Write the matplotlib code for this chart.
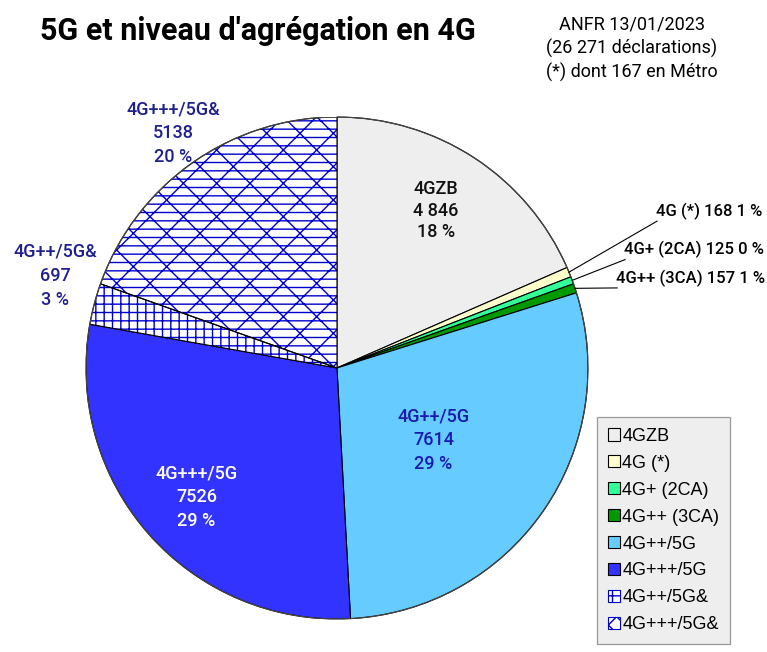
import numpy as np
import matplotlib
matplotlib.use("Agg")
import matplotlib.pyplot as plt
from matplotlib.patches import Wedge

# ---- data (ANFR 13/01/2023)
labels = ["4GZB", "4G (*)", "4G+ (2CA)", "4G++ (3CA)",
          "4G++/5G", "4G+++/5G", "4G++/5G&", "4G+++/5G&"]
counts = [4846, 168, 125, 157, 7614, 7526, 697, 5138]
count_text = ["4 846", "168", "125", "157", "7614", "7526", "697", "5138"]

colors = ["#eeeeee", "#ffffcc", "#33ff99", "#009900",
          "#66ccff", "#3333ff", "white", "white"]
hatches = [None, None, None, None, None, None, "++", "x--"]
legend_hatches = [None, None, None, None, None, None, "++", "xx"]
label_colors = ["#111111", None, None, None, "#1a1ab0", "white", "#1f1f90", "#1f1f90"]
# label placement: radius and angle shift (deg) from the slice middle
label_radius = [0.74, None, None, None, 0.48, 0.76, 1.182, 1.142]
label_shift = [1.0, 0, 0, 0, -2.0, 1.0, -3.3, -0.3]
label_spacing = [1.25, None, None, None, 1.42, 1.42, 1.42, 1.42]

# small slices: labels outside with leader lines (end points in axes units)
small_idx = [1, 2, 3]
small_ends = [(1.275, 0.585), (1.148, 0.432), (1.116, 0.319)]

plt.rcParams["font.family"] = ["Roboto", "DejaVu Sans"]

fig = plt.figure(figsize=(7.67, 6.52), dpi=100)
ax = fig.add_axes([0.1121, 0.0506, 0.6545, 0.770])

total = sum(counts)
wedges, _ = ax.pie(counts, colors=colors, startangle=90, counterclock=False,
                   radius=1.0, wedgeprops=dict(edgecolor="black", linewidth=0.8))
ax.set_xlim(-1, 1)
ax.set_ylim(-1, 1)
ax.set_aspect("equal")
ax.axis("off")

# hatch layers drawn in blue, then the black outline above them
for w, h in zip(wedges, hatches):
    if h:
        w.set_hatch(h)
        w.set_edgecolor("#0000cc")
        w.set_linewidth(0)
        ax.add_patch(Wedge(w.center, w.r, w.theta1, w.theta2, facecolor="none",
                           edgecolor="black", linewidth=0.8))

ax.add_patch(plt.Circle((0, 0), 1.0, facecolor="none", edgecolor="#444444", linewidth=0.9))

# ---- labels inside / around the big slices
for i, w in enumerate(wedges):
    if label_radius[i] is None:
        continue
    mid = np.deg2rad((w.theta1 + w.theta2) / 2 + label_shift[i])
    pct = round(100 * counts[i] / total)
    r = label_radius[i]
    ax.text(r * np.cos(mid), r * np.sin(mid),
            f"{labels[i]}\n{count_text[i]}\n{pct} %",
            ha="center", va="center", fontsize=13, fontweight="medium",
            color=label_colors[i], linespacing=label_spacing[i])

for i, (ex, ey) in zip(small_idx, small_ends):
    w = wedges[i]
    mid = np.deg2rad((w.theta1 + w.theta2) / 2)
    ax.plot([np.cos(mid), ex], [np.sin(mid), ey], color="black", lw=0.8,
            clip_on=False)
    pct = int(100 * counts[i] / total + 0.5)
    ax.text(ex - 0.005, ey + 0.005, f"{labels[i]} {count_text[i]} {pct} %",
            ha="left", va="bottom", fontsize=12, fontweight="medium")

# ---- titles
fig.text(0.052, 0.953, "5G et niveau d'agrégation en 4G", fontsize=22,
         fontweight="bold", ha="left", va="center")
fig.text(0.824, 0.925, "ANFR 13/01/2023\n(26 271 déclarations)\n(*) dont 167 en Métro",
         fontsize=13, ha="center", va="center", linespacing=1.32)

# ---- legend
leg = fig.legend(wedges, labels, loc="upper left",
                 bbox_to_anchor=(597 / 767, 1 - 417 / 652),
                 frameon=True, fancybox=False, facecolor="#eeeeee",
                 edgecolor="#999999", framealpha=1,
                 prop={"family": "Liberation Sans", "size": 13},
                 handlelength=0.65, handleheight=0.65, handletextpad=0.15,
                 labelspacing=0.55, borderpad=0.6, borderaxespad=0)
for h, hat in zip(leg.legend_handles, legend_hatches):
    h.set_linewidth(0.8)
    h.set_edgecolor("#0000cc" if hat else "black")
    h.set_hatch(hat)
leg.get_frame().set_linewidth(0.9)

fig.savefig("out.png", dpi=100)
